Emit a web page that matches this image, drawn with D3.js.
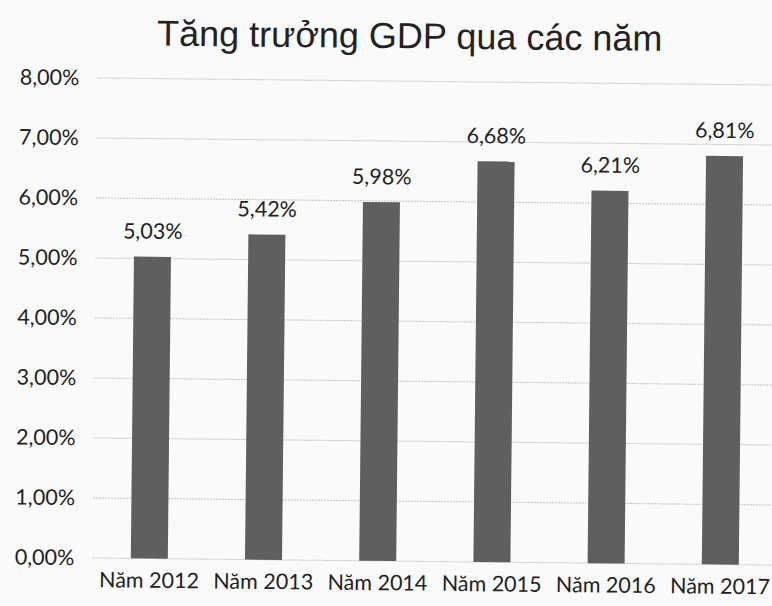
<!DOCTYPE html>
<html>
<head>
<meta charset="utf-8">
<script src="https://cdn.jsdelivr.net/npm/d3@7"></script>
<style>
  html, body { margin: 0; padding: 0; background: #fafafa; }
</style>
</head>
<body>
<div id="chart"></div>
<script>
const years = ['Năm 2012', 'Năm 2013', 'Năm 2014', 'Năm 2015', 'Năm 2016', 'Năm 2017']
const growth = [5.03, 5.42, 5.98, 6.68, 6.21, 6.81]
const yTicks = [0, 1, 2, 3, 4, 5, 6, 7, 8]

const width = 772
const height = 606
const margin = {top: 81, bottom: 45, left: 95}

const fmt = v => v.toFixed(2).replace('.', ',') + '%'
const labelFont = 'Lato, "Open Sans", sans-serif'

const svg = d3.create('svg')
  .attr('width', width)
  .attr('height', height)
  .attr('viewBox', [0, 0, width, height])

document.getElementById('chart').appendChild(svg.node())

// scanned page is a little tilted
const g = svg.append('g')
  .attr('transform', `rotate(0.6, ${width / 2}, ${height / 2})`)

const x = d3.scaleBand()
  .domain(years)
  .range([margin.left, 780])
  .paddingInner(0.676)
  .paddingOuter(0.337)

const y = d3.scaleLinear()
  .domain([0, 8])
  .range([height - margin.bottom, margin.top])

// title
g.append('text')
  .attr('x', 407)
  .attr('y', 48)
  .attr('text-anchor', 'middle')
  .attr('font-family', '"Liberation Sans", Arial, sans-serif')
  .attr('font-size', 36)
  .attr('fill', '#222')
  .text('Tăng trưởng GDP qua các năm')

// gridlines
g.append('g')
  .selectAll('line')
  .data(yTicks)
  .join('line')
    .attr('x1', margin.left)
    .attr('x2', width + 10)
    .attr('y1', d => y(d))
    .attr('y2', d => y(d))
    .attr('stroke', '#c4c4c4')
    .attr('stroke-dasharray', '2,1')

// y axis labels
const yAxis = d3.axisLeft(y)
  .tickValues(yTicks)
  .tickFormat(fmt)
  .tickSize(0)
  .tickPadding(18)

g.append('g')
  .attr('transform', `translate(${margin.left},0)`)
  .call(yAxis)
  .call(a => a.select('.domain').remove())
  .call(a => a.selectAll('text')
    .attr('font-family', labelFont)
    .attr('font-size', 21.5)
    .attr('fill', '#222'))

// bars
g.append('g')
  .selectAll('rect')
  .data(growth)
  .join('rect')
    .attr('x', (d, i) => x(years[i]))
    .attr('y', d => y(d))
    .attr('width', x.bandwidth())
    .attr('height', d => y(0) - y(d))
    .attr('fill', '#5f5f5f')

// value labels
g.append('g')
  .selectAll('text')
  .data(growth)
  .join('text')
    .attr('x', (d, i) => x(years[i]) + x.bandwidth() / 2)
    .attr('y', d => y(d) - 18)
    .attr('text-anchor', 'middle')
    .attr('font-family', labelFont)
    .attr('font-size', 21.5)
    .attr('fill', '#222')
    .text(d => fmt(d))

// x axis labels
const xAxis = d3.axisBottom(x)
  .tickSize(0)
  .tickPadding(14)

g.append('g')
  .attr('transform', `translate(0,${y(0)})`)
  .call(xAxis)
  .call(a => a.select('.domain').remove())
  .call(a => a.selectAll('text')
    .attr('font-family', labelFont)
    .attr('font-size', 21.5)
    .attr('fill', '#222'))
</script>
</body>
</html>
